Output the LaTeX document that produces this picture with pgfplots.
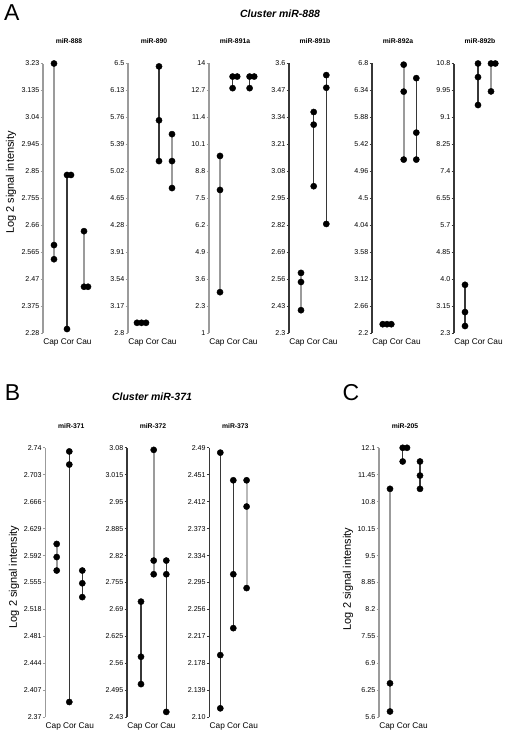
\documentclass[border=0pt]{standalone}
\usepackage{fontspec}
\setmainfont{Liberation Sans}
\usepackage{pgfplots}
\pgfplotsset{compat=1.18}
\definecolor{lgray}{RGB}{155,155,155}
\definecolor{dgray}{RGB}{55,55,55}
\pgfplotsset{
 sub/.style={
   scale only axis, width=52pt, height=269.5pt, anchor=south west,
   xmin=0, xmax=52, clip=false,
   axis lines*=left, x axis line style={draw=none},
   xtick={8,24.5,41}, xticklabels={Cap,Cor,Cau},
   xtick style={draw=none},
   tick align=outside, major tick length=2.5pt,
   /pgf/number format/assume math mode=true,
   yticklabel style={font=\fontsize{7.1}{7.5}\selectfont, inner sep=1pt},
   xticklabel style={font=\fontsize{8.3}{9}\selectfont, inner sep=1pt, yshift=-2pt},
   title style={font=\fontsize{6.8}{7.5}\selectfont\bfseries, at={(0.5,1)}, anchor=center, yshift=16pt},
 },
 gaxis/.style={y axis line style={lgray, line width=1.5pt}, ytick style={lgray, line width=0.6pt}},
 daxis/.style={y axis line style={dgray, line width=1.1pt}, ytick style={dgray, line width=0.6pt}},
 gl/.style={lgray, line width=1.8pt, no marks},
 dl/.style={dgray, line width=1.1pt, no marks},
 pts/.style={only marks, mark=*, mark size=3.1pt, black},
}
\begin{document}
\begin{tikzpicture}
\path[use as bounding box] (0,0) rectangle (510pt,737pt);

% ---------------- Panel A ----------------
\node[font=\fontsize{23}{23}\selectfont] at (11.7pt,724pt) {A};
\node[font=\fontsize{10.5}{12}\selectfont\bfseries\itshape] at (280pt,723pt) {Cluster miR-888};
\node[rotate=90, font=\fontsize{11}{12}\selectfont] at (11pt,554.5pt) {Log 2 signal intensity};

\begin{axis}[sub, gaxis, at={(43pt,404pt)}, title={miR-888}, ymin=2.28, ymax=3.23,
  ytick={2.28,2.375,2.47,2.565,2.66,2.755,2.85,2.945,3.04,3.135,3.23},
  yticklabels={2.28,2.375,2.47,2.565,2.66,2.755,2.85,2.945,3.04,3.135,3.23}]
\addplot[gl] coordinates {(11,3.23) (11,2.54)};
\addplot[dl] coordinates {(24,2.837) (24,2.294)};
\addplot[gl] coordinates {(41,2.639) (41,2.443)};
\addplot[pts] coordinates {(11,3.23) (11,2.59) (11,2.54) (24,2.837) (28,2.837) (24,2.294) (41,2.639) (41,2.443) (45,2.443)};
\end{axis}

\begin{axis}[sub, gaxis, at={(128pt,404pt)}, title={miR-890}, ymin=2.8, ymax=6.5,
  ytick={2.8,3.17,3.54,3.91,4.28,4.65,5.02,5.39,5.76,6.13,6.5},
  yticklabels={2.8,3.17,3.54,3.91,4.28,4.65,5.02,5.39,5.76,6.13,6.5}]
\addplot[dl] coordinates {(31,6.46) (31,5.16)};
\addplot[gl] coordinates {(44,5.53) (44,4.79)};
\addplot[pts] coordinates {(9,2.94) (13.5,2.94) (18,2.94) (31,6.46) (31,5.72) (31,5.16) (44,5.53) (44,5.16) (44,4.79)};
\end{axis}

\begin{axis}[sub, gaxis, at={(209pt,404pt)}, title={miR-891a}, ymin=1, ymax=14,
  ytick={1,2.3,3.6,4.9,6.2,7.5,8.8,10.1,11.4,12.7,14},
  yticklabels={1,2.3,3.6,4.9,6.2,7.5,8.8,10.1,11.4,12.7,14}]
\addplot[gl] coordinates {(11,9.54) (11,2.97)};
\addplot[dl] coordinates {(23.6,13.37) (23.6,12.81)};
\addplot[dl] coordinates {(40.6,13.37) (40.6,12.81)};
\addplot[pts] coordinates {(11,9.54) (11,7.9) (11,2.97) (23.6,13.37) (28.2,13.37) (23.6,12.81) (40.6,13.37) (45.2,13.37) (40.6,12.81)};
\end{axis}

\begin{axis}[sub, daxis, at={(289pt,404pt)}, title={miR-891b}, ymin=2.3, ymax=3.6,
  ytick={2.3,2.43,2.56,2.69,2.82,2.95,3.08,3.21,3.34,3.47,3.6},
  yticklabels={2.3,2.43,2.56,2.69,2.82,2.95,3.08,3.21,3.34,3.47,3.6}]
\addplot[gl] coordinates {(12,2.59) (12,2.41)};
\addplot[dl] coordinates {(24.7,3.366) (24.7,3.008)};
\addplot[dl] coordinates {(37.3,3.544) (37.3,2.826)};
\addplot[pts] coordinates {(12,2.59) (12,2.546) (12,2.41) (24.7,3.366) (24.7,3.305) (24.7,3.008) (37.3,3.544) (37.3,3.483) (37.3,2.826)};
\end{axis}

\begin{axis}[sub, daxis, at={(372pt,404pt)}, title={miR-892a}, ymin=2.2, ymax=6.8,
  ytick={2.2,2.66,3.12,3.58,4.04,4.5,4.96,5.42,5.88,6.34,6.8},
  yticklabels={2.2,2.66,3.12,3.58,4.04,4.5,4.96,5.42,5.88,6.34,6.8}]
\addplot[gl] coordinates {(31.7,6.78) (31.7,5.16)};
\addplot[dl] coordinates {(44.3,6.55) (44.3,5.16)};
\addplot[pts] coordinates {(10.7,2.35) (15,2.35) (19.3,2.35) (31.7,6.78) (31.7,6.32) (31.7,5.16) (44.3,6.55) (44.3,5.62) (44.3,5.16)};
\end{axis}

\begin{axis}[sub, daxis, at={(454pt,404pt)}, title={miR-892b}, ymin=2.3, ymax=10.8,
  ytick={2.3,3.15,4.0,4.85,5.7,6.55,7.4,8.25,9.1,9.95,10.8},
  yticklabels={2.3,3.15,4.0,4.85,5.7,6.55,7.4,8.25,9.1,9.95,10.8}]
\addplot[dl] coordinates {(11,3.82) (11,2.52)};
\addplot[dl] coordinates {(24,10.8) (24,9.49)};
\addplot[gl] coordinates {(37,10.8) (37,9.92)};
\addplot[pts] coordinates {(11,3.82) (11,2.96) (11,2.52) (24,10.8) (24,10.37) (24,9.49) (37,10.8) (41.3,10.8) (37,9.92)};
\end{axis}

% ---------------- Panel B ----------------
\node[font=\fontsize{23}{23}\selectfont] at (12.5pt,344pt) {B};
\node[font=\fontsize{10.5}{12}\selectfont\bfseries\itshape] at (152pt,340pt) {Cluster miR-371};
\node[rotate=90, font=\fontsize{11}{12}\selectfont] at (14pt,160pt) {Log 2 signal intensity};

\begin{axis}[sub, gaxis, at={(45.3pt,19.7pt)}, title={miR-371}, ymin=2.37, ymax=2.74,
  ytick={2.37,2.407,2.444,2.481,2.518,2.555,2.592,2.629,2.666,2.703,2.74},
  yticklabels={2.37,2.407,2.444,2.481,2.518,2.555,2.592,2.629,2.666,2.703,2.74}]
\addplot[gl] coordinates {(11.4,2.608) (11.4,2.5715)};
\addplot[dl] coordinates {(24,2.735) (24,2.391)};
\addplot[dl] coordinates {(37,2.5715) (37,2.535)};
\addplot[pts] coordinates {(11.4,2.608) (11.4,2.59) (11.4,2.5715) (24,2.735) (24,2.717) (24,2.391) (37,2.5715) (37,2.554) (37,2.535)};
\end{axis}

\begin{axis}[sub, daxis, at={(127pt,19.7pt)}, title={miR-372}, ymin=2.43, ymax=3.08,
  ytick={2.43,2.495,2.56,2.625,2.69,2.755,2.82,2.885,2.95,3.015,3.08},
  yticklabels={2.43,2.495,2.56,2.625,2.69,2.755,2.82,2.885,2.95,3.015,3.08}]
\addplot[dl] coordinates {(14,2.709) (14,2.51)};
\addplot[gl] coordinates {(26.7,3.075) (26.7,2.775)};
\addplot[dl] coordinates {(39.3,2.808) (39.3,2.443)};
\addplot[pts] coordinates {(14,2.709) (14,2.576) (14,2.51) (26.7,3.075) (26.7,2.808) (26.7,2.775) (39.3,2.808) (39.3,2.775) (39.3,2.443)};
\end{axis}

\begin{axis}[sub, daxis, at={(209.3pt,19.7pt)}, title={miR-373}, ymin=2.10, ymax=2.49,
  ytick={2.10,2.139,2.178,2.217,2.256,2.295,2.334,2.373,2.412,2.451,2.49},
  yticklabels={2.10,2.139,2.178,2.217,2.256,2.295,2.334,2.373,2.412,2.451,2.49}]
\addplot[dl] coordinates {(11,2.483) (11,2.113)};
\addplot[dl] coordinates {(24,2.443) (24,2.229)};
\addplot[gl, lgray!70] coordinates {(37.3,2.443) (37.3,2.287)};
\addplot[pts] coordinates {(11,2.483) (11,2.19) (11,2.113) (24,2.443) (24,2.307) (24,2.229) (37.3,2.443) (37.3,2.405) (37.3,2.287)};
\end{axis}

% ---------------- Panel C ----------------
\node[font=\fontsize{23}{23}\selectfont] at (351pt,344pt) {C};
\node[rotate=90, font=\fontsize{11}{12}\selectfont] at (348pt,158pt) {Log 2 signal intensity};

\begin{axis}[sub, gaxis, at={(379pt,19.7pt)}, title={miR-205}, ymin=5.6, ymax=12.1,
  ytick={5.6,6.25,6.9,7.55,8.2,8.85,9.5,10.15,10.8,11.45,12.1},
  yticklabels={5.6,6.25,6.9,7.55,8.2,8.85,9.5,10.15,10.8,11.45,12.1}]
\addplot[gl] coordinates {(11,11.11) (11,5.74)};
\addplot[dl] coordinates {(23.7,12.1) (23.7,11.77)};
\addplot[dl] coordinates {(41,11.77) (41,11.11)};
\addplot[pts] coordinates {(11,11.11) (11,6.42) (11,5.74) (23.7,12.1) (28,12.1) (23.7,11.77) (41,11.77) (41,11.43) (41,11.11)};
\end{axis}
\end{tikzpicture}
\end{document}
